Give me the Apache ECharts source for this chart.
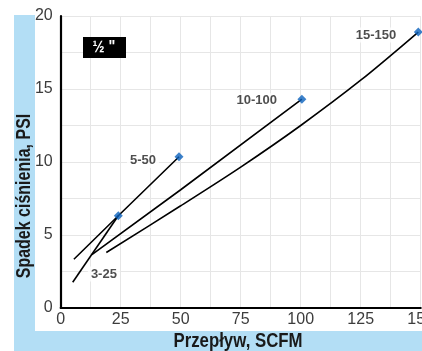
<!DOCTYPE html>
<html>
<head>
<meta charset="utf-8">
<script src="https://cdn.jsdelivr.net/npm/echarts@6/dist/echarts.min.js"></script>
<style>
html,body{margin:0;padding:0;background:#fff;}
#chart{width:422px;height:351px;}
</style>
</head>
<body>
<div id="chart"></div>
<script>
// Pressure drop vs. flow for 1/2" fittings, four flow-range curves
const curve_3_25   = [[5.0, 1.76], [24.0, 6.32]];
const curve_5_50   = [[5.5, 3.34], [24.0, 6.32], [49.3, 10.36]];
const curve_10_100 = [[13.0, 3.65], [50.0, 8.1], [100.5, 14.3]];
const curve_15_150 = [[19.0, 3.8], [50.0, 7.0], [75.0, 9.65], [100.0, 12.5], [125.0, 15.6], [149.0, 18.9]];

// rated end points shown as diamonds
const ratedPoints = [[24.0, 6.32], [49.3, 10.36], [100.5, 14.3], [149.0, 18.9]];

// curve names and where their captions sit (data coordinates)
const curveNames = ['3-25', '5-50', '10-100', '15-150'];
const captionAnchors = [[18.0, 2.33], [34.3, 10.1], [81.7, 14.2], [131.4, 18.7]];

const xTicks = [0, 25, 50, 75, 100, 125, 150];
const yTicks = [0, 5, 10, 15, 20];

const FONT = '"Liberation Sans", Arial, sans-serif';
const BLUE_BG = '#b3def5';

const chart = echarts.init(document.getElementById('chart'), null, {renderer: 'canvas'});

function curveSeries(data, smooth) {
  return {
    type: 'line',
    data: data,
    smooth: smooth,
    showSymbol: false,
    symbol: 'none',
    lineStyle: {color: '#000', width: 1.6},
    z: 3,
    silent: true
  };
}

chart.setOption({
  animation: false,
  backgroundColor: '#fff',
  graphic: [
    {type: 'rect', shape: {x: 14, y: 15, width: 21, height: 336}, style: {fill: BLUE_BG}, z: -10},
    {type: 'rect', shape: {x: 14, y: 331, width: 408, height: 20}, style: {fill: BLUE_BG}, z: -10},
    // axis titles, drawn narrow
    {type: 'text', x: 238, y: 341, scaleX: 0.84, style: {text: 'Przepływ, SCFM', font: 'bold 20px ' + FONT, fill: '#1a1a1a', align: 'center', verticalAlign: 'middle'}, z: 10},
    {type: 'text', x: 24, y: 196, rotation: Math.PI / 2, scaleX: 0.8, style: {text: 'Spadek ciśnienia, PSI', font: 'bold 20px ' + FONT, fill: '#1a1a1a', align: 'center', verticalAlign: 'middle'}, z: 10},
    // size badge
    {type: 'rect', shape: {x: 83, y: 37, width: 43, height: 21}, style: {fill: '#000'}, z: 10},
    {type: 'text', x: 104, y: 47.5, scaleX: 0.9, style: {text: '½ "', font: 'bold 16px ' + FONT, fill: '#fff', align: 'center', verticalAlign: 'middle'}, z: 11}
  ],
  grid: {left: 60.7, right: 1.3, top: 16, bottom: 43, containLabel: false, outerBoundsMode: 'none'},
  xAxis: {
    type: 'value',
    min: xTicks[0],
    max: xTicks[xTicks.length - 1],
    interval: xTicks[1] - xTicks[0],
    axisLine: {show: true, onZero: false, lineStyle: {color: '#000', width: 2.2}},
    axisTick: {show: false},
    minorTick: {show: false, splitNumber: 2},
    splitLine: {show: true, lineStyle: {color: '#e6e6e6', width: 1}},
    minorSplitLine: {show: true, lineStyle: {color: '#e6e6e6', width: 1}},
    axisLabel: {color: '#3c3c3c', fontFamily: FONT, fontSize: 16, margin: 4, hideOverlap: false}
  },
  yAxis: {
    type: 'value',
    min: yTicks[0],
    max: yTicks[yTicks.length - 1],
    interval: yTicks[1] - yTicks[0],
    axisLine: {show: true, onZero: false, lineStyle: {color: '#000', width: 2.2}},
    axisTick: {show: false},
    minorTick: {show: false, splitNumber: 2},
    splitLine: {show: true, lineStyle: {color: '#e6e6e6', width: 1}},
    minorSplitLine: {show: true, lineStyle: {color: '#e6e6e6', width: 1}},
    axisLabel: {color: '#3c3c3c', fontFamily: FONT, fontSize: 16, margin: 8}
  },
  series: [
    curveSeries(curve_3_25, false),
    curveSeries(curve_5_50, false),
    curveSeries(curve_10_100, false),
    curveSeries(curve_15_150, 0.3),
    {
      type: 'scatter',
      data: ratedPoints,
      symbol: 'diamond',
      symbolSize: 9,
      itemStyle: {color: '#0b62bd'},
      z: 5,
      silent: true
    },
    {
      type: 'scatter',
      data: captionAnchors.map((p, i) => ({value: p, name: curveNames[i]})),
      symbolSize: 0,
      z: 6,
      silent: true,
      label: {
        show: true,
        position: 'inside',
        formatter: p => p.name,
        fontFamily: FONT,
        fontWeight: 'bold',
        fontSize: 13,
        color: '#222',
        backgroundColor: '#fff',
        padding: [1, 3]
      }
    }
  ]
});
</script>
</body>
</html>
